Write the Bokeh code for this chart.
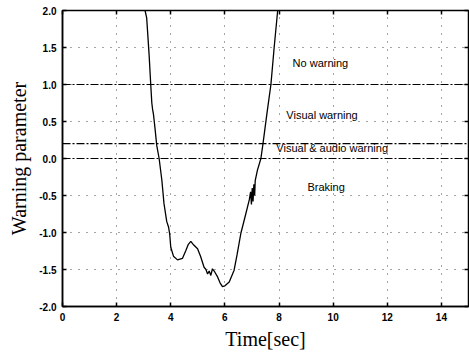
from bokeh.plotting import figure
from bokeh.models import Span, LinearAxis, Label, FixedTicker, CustomJSTickFormatter
from bokeh.embed import file_html
from bokeh.resources import INLINE

# curve data
time_s = [3.05, 3.11, 3.2, 3.26, 3.3, 3.33, 3.36, 3.42, 3.48, 3.57, 3.67, 3.75, 3.85,
          3.92, 3.96, 4.0, 4.1, 4.25, 4.43, 4.55, 4.65, 4.74, 4.85, 4.99, 5.1, 5.23,
          5.3, 5.36, 5.42, 5.48, 5.54, 5.62, 5.73, 5.82, 5.91, 6.0, 6.16, 6.34, 6.45,
          6.59, 6.75, 6.9, 6.95, 6.98, 7.01, 7.04, 7.07, 7.1, 7.12, 7.2, 7.33, 7.4,
          7.55, 7.7, 7.82, 7.95]
warning = [2.0, 1.9, 1.4, 1.0, 0.75, 0.66, 0.6, 0.4, 0.18, 0.0, -0.29, -0.61, -0.85,
           -0.93, -1.02, -1.2, -1.32, -1.37, -1.35, -1.25, -1.16, -1.12, -1.17, -1.22,
           -1.32, -1.47, -1.5, -1.56, -1.52, -1.58, -1.49, -1.53, -1.60, -1.68, -1.73,
           -1.72, -1.67, -1.51, -1.3, -1.01, -0.78, -0.56, -0.45, -0.62, -0.40, -0.58,
           -0.35, -0.5, -0.3, -0.16, 0.0, 0.18, 0.6, 1.0, 1.5, 2.0]

thresholds = [1.0, 0.2, 0.0]
region_labels = ["No warning", "Visual warning", "Visual & audio warning", "Braking"]
region_x = [8.5, 8.27, 7.9, 9.05]
region_y = [1.29, 0.59, 0.14, -0.38]

x_ticks = [0, 2, 4, 6, 8, 10, 12, 14]
y_ticks = [-2.0, -1.5, -1.0, -0.5, 0.0, 0.5, 1.0, 1.5, 2.0]

p = figure(width=469, height=352, x_range=(0, 15), y_range=(-2, 2),
           output_backend="svg", toolbar_location=None,
           min_border_left=62, min_border_right=1, min_border_top=10,
           min_border_bottom=45)
p.background_fill_color = "white"
p.outline_line_color = "black"
p.outline_line_width = 1.5

p.xaxis.ticker = FixedTicker(ticks=x_ticks)
p.yaxis.ticker = FixedTicker(ticks=y_ticks)
p.yaxis.formatter = CustomJSTickFormatter(code="return tick.toFixed(1);")

for ax in [p.xaxis[0], p.yaxis[0]]:
    ax.major_tick_in = 4
    ax.major_tick_out = 0
    ax.minor_tick_in = 0
    ax.minor_tick_out = 0
    ax.axis_line_color = "black"
    ax.axis_line_width = 1.5
    ax.major_tick_line_color = "black"
    ax.major_tick_line_width = 1.5
    ax.major_label_text_font = "Liberation Sans"
    ax.major_label_text_font_size = "10px"
    ax.major_label_text_color = "black"
    ax.major_label_text_font_style = "bold"
    ax.axis_label_text_font = "Liberation Serif"
    ax.axis_label_text_font_size = "20px"
    ax.axis_label_text_font_style = "normal"
    ax.axis_label_text_color = "black"

p.xaxis.axis_label = "Time[sec]"
p.yaxis.axis_label = "Warning parameter"
p.xaxis.major_label_standoff = 6
p.yaxis.major_label_standoff = 6
p.xaxis.axis_label_standoff = 4
p.yaxis.axis_label_standoff = 6

for loc, tk in [("right", y_ticks), ("above", x_ticks)]:
    ax = LinearAxis(ticker=FixedTicker(ticks=tk),
                    formatter=CustomJSTickFormatter(code="return '';"))
    ax.major_tick_in = 4
    ax.major_tick_out = 0
    ax.minor_tick_in = 0
    ax.minor_tick_out = 0
    ax.major_label_standoff = 0
    ax.axis_line_color = "black"
    ax.major_tick_line_color = "black"
    ax.major_tick_line_width = 1.5
    p.add_layout(ax, loc)

p.xgrid.ticker = FixedTicker(ticks=[2, 4, 6, 8, 10, 12, 14])
p.ygrid.ticker = FixedTicker(ticks=[-1.5, -1.0, -0.5, 0.5, 1.0, 1.5])
for g in [p.xgrid[0], p.ygrid[0]]:
    g.grid_line_color = "black"
    g.grid_line_alpha = 0.7
    g.grid_line_dash = "1 7"
    g.grid_line_width = 1

for t in thresholds:
    p.add_layout(Span(location=t, dimension="width", line_color="black",
                      line_width=1.2, line_dash="8 2 2 2"))

p.line(time_s, warning, line_color="black", line_width=1.3)

for txt, xx, yy in zip(region_labels, region_x, region_y):
    p.add_layout(Label(x=xx, y=yy, text=txt, text_font="Liberation Sans",
                       text_font_size="11px", text_color="black",
                       text_baseline="middle", text_align="left"))

open("out.html", "w").write(file_html(p, INLINE))
